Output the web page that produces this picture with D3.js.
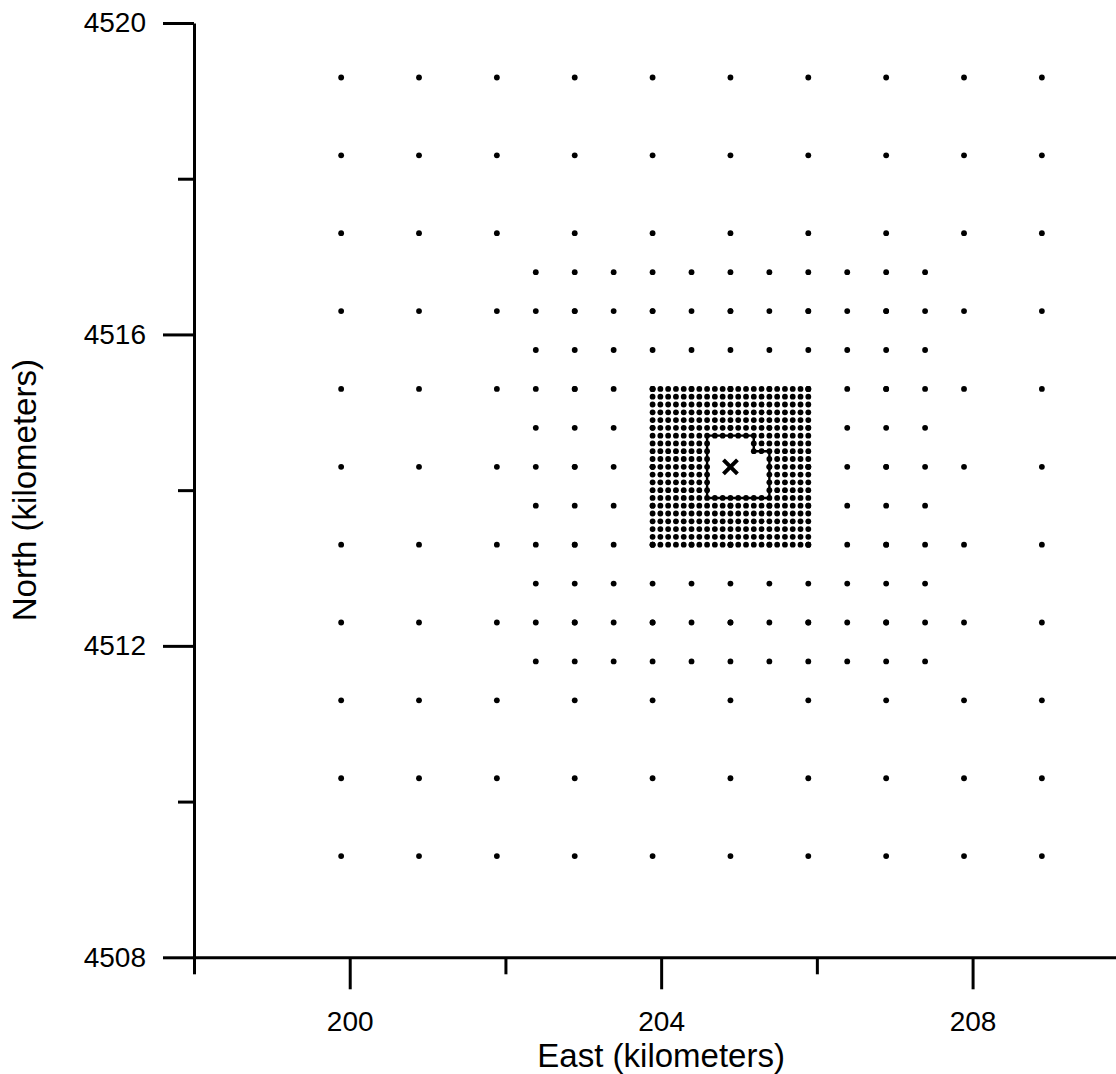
<!DOCTYPE html>
<html>
<head>
<meta charset="utf-8">
<script src="https://cdn.jsdelivr.net/npm/d3@7"></script>
<style>
  html, body { margin: 0; padding: 0; background: #fff; }
  svg { display: block; }
  text { font-family: "Liberation Sans", Arial, Helvetica, sans-serif; fill: #000; }
</style>
</head>
<body>
<div id="chart"></div>
<script>
// receptor grid coordinates (km, UTM)
const coarseE = [199.89, 200.89, 201.89, 202.89, 203.89, 204.89, 205.89, 206.89, 207.89, 208.89, 209.89]
const coarseN = [4509.30, 4510.30, 4511.30, 4512.30, 4513.30, 4514.30, 4515.30, 4516.30, 4517.30, 4518.30, 4519.30]
const mediumE = [202.39, 202.89, 203.39, 203.89, 204.39, 204.89, 205.39, 205.89, 206.39, 206.89, 207.39]
const mediumN = [4511.80, 4512.30, 4512.80, 4513.30, 4513.80, 4514.30, 4514.80, 4515.30, 4515.80, 4516.30, 4516.80]
const denseE = [203.89, 203.99, 204.09, 204.19, 204.29, 204.39, 204.49, 204.59, 204.69, 204.79, 204.89,
  204.99, 205.09, 205.19, 205.29, 205.39, 205.49, 205.59, 205.69, 205.79, 205.89]
const denseN = [4513.30, 4513.40, 4513.50, 4513.60, 4513.70, 4513.80, 4513.90, 4514.00, 4514.10, 4514.20, 4514.30,
  4514.40, 4514.50, 4514.60, 4514.70, 4514.80, 4514.90, 4515.00, 4515.10, 4515.20, 4515.30]
// building / fence outline
const holeE = [204.59, 205.19, 205.19, 205.39, 205.39, 204.59]
const holeN = [4514.70, 4514.70, 4514.50, 4514.50, 4513.90, 4513.90]
const sourceE = [204.89]
const sourceN = [4514.30]

const xMajor = [200, 204, 208]
const xMinor = [198, 202, 206, 210]
const yMajor = [4508, 4512, 4516, 4520]
const yMinor = [4510, 4514, 4518]

const width = 1116,
  height = 1074

const x = d3.scaleLinear().domain([198, 210]).range([194, 1128.3])
const y = d3.scaleLinear().domain([4508, 4520]).range([957.3, 23])

const svg = d3.select('#chart').append('svg').attr('width', width).attr('height', height)

const hole = holeE.map((e, i) => [e, holeN[i]])
const d = 0.02
// a point is dropped only when it lies strictly inside the outline
const inside = (e, n) =>
  [[d, d], [d, -d], [-d, d], [-d, -d]].every(o => d3.polygonContains(hole, [e + o[0], n + o[1]]))

const cross = (es, ns) => {
  let out = []
  ns.forEach(n => es.forEach(e => { if (!inside(e, n)) out.push([e, n]) }))
  return out
}
const points = [].concat(cross(coarseE, coarseN), cross(mediumE, mediumN), cross(denseE, denseN))

// axes
const tickStyle = g => {
  g.selectAll('path, line').attr('stroke', '#000').attr('stroke-width', 3)
  g.selectAll('text').style('font-size', '28px')
}

svg.append('g')
  .attr('transform', `translate(0,${y(4508)})`)
  .call(d3.axisBottom(x).tickValues(xMinor).tickSize(17).tickSizeOuter(0).tickFormat(''))
  .call(tickStyle)
svg.append('g')
  .attr('transform', `translate(0,${y(4508)})`)
  .call(d3.axisBottom(x).tickValues(xMajor).tickSize(32).tickSizeOuter(0).tickPadding(22).tickFormat(d3.format('d')))
  .call(tickStyle)
  .call(g => g.select('.domain').remove())

svg.append('g')
  .attr('transform', `translate(${x(198)},0)`)
  .call(d3.axisLeft(y).tickValues(yMinor).tickSize(16).tickSizeOuter(0).tickFormat(''))
  .call(tickStyle)
svg.append('g')
  .attr('transform', `translate(${x(198)},0)`)
  .call(d3.axisLeft(y).tickValues(yMajor).tickSize(31).tickSizeOuter(0).tickPadding(17).tickFormat(d3.format('d')))
  .call(tickStyle)
  .call(g => g.select('.domain').remove())

svg.selectAll('.tick text').attr('fill', '#000')

// axis titles
svg.append('text')
  .attr('x', x(204))
  .attr('y', 1067)
  .attr('text-anchor', 'middle')
  .style('font-size', '33px')
  .text('East (kilometers)')

svg.append('text')
  .attr('transform', `translate(36,${y(4514)}) rotate(-90)`)
  .attr('text-anchor', 'middle')
  .style('font-size', '33px')
  .text('North (kilometers)')

// outline
svg.append('path')
  .datum(hole)
  .attr('d', d3.line().x(p => x(p[0])).y(p => y(p[1])).curve(d3.curveLinearClosed))
  .attr('fill', 'none')
  .attr('stroke', '#000')
  .attr('stroke-width', 2.4)

// receptors
svg.append('g')
  .selectAll('circle')
  .data(points)
  .enter()
  .append('circle')
  .attr('cx', p => x(p[0]))
  .attr('cy', p => y(p[1]))
  .attr('r', 2.9)
  .attr('fill', '#000')

// source
const s = 7
svg.append('g')
  .selectAll('path')
  .data(sourceE.map((e, i) => [e, sourceN[i]]))
  .enter()
  .append('path')
  .attr('d', p => {
    const cx = x(p[0]), cy = y(p[1])
    return `M${cx - s},${cy - s}L${cx + s},${cy + s}M${cx - s},${cy + s}L${cx + s},${cy - s}`
  })
  .attr('stroke', '#000')
  .attr('stroke-width', 4)
</script>
</body>
</html>
